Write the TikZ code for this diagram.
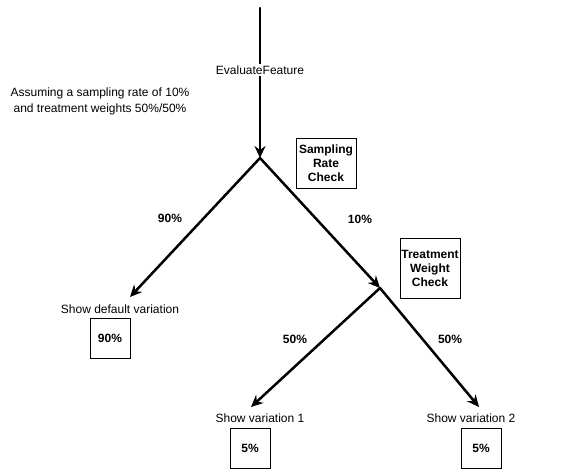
\documentclass[tikz,border=0pt]{standalone}
\usepackage{fontspec}
\setmainfont{Liberation Sans}
\usetikzlibrary{arrows.meta}
\begin{document}
\begin{tikzpicture}[x=1pt, y=-1pt, font=\fontsize{12}{14}\selectfont,
  every node/.style={inner sep=1pt},
  box/.style={draw, line width=1pt, minimum width=40pt, minimum height=40pt, align=center, font=\fontsize{12}{14}\bfseries\selectfont},
  pct/.style={font=\fontsize{12}{14}\bfseries\selectfont},
  arr/.style={line width=2.5pt, line cap=round, -{Stealth[length=12pt, width=11pt, inset=4pt]}}]
\useasboundingbox (0,0) rectangle (561,469);
\coordinate (T) at (260, 8);
\coordinate (A) at (260, 158);
\coordinate (B) at (380, 288);
\coordinate (C) at (130, 297);
\coordinate (D) at (251, 407);
\coordinate (E) at (479, 407);

\node (N) at (100, 101) [align=center, font=\fontsize{12}{16}\selectfont] {Assuming a sampling rate of 10\%\\and treatment weights 50\%/50\%};
\node (SR) at (326, 163) [box, minimum width=60pt, minimum height=50pt] {Sampling\\Rate\\Check};
\node (TW) at (430, 268.5) [box, minimum width=60pt, minimum height=60pt] {Treatment\\Weight\\Check};
\node (L0) at (120, 309) {Show default variation};
\node (L1) at (260, 418) {Show variation 1};
\node (L2) at (471, 418) {Show variation 2};
\node (V0) at (110, 338) [box] {90\%};
\node (V1) at (250, 448) [box] {5\%};
\node (V2) at (481, 448) [box] {5\%};
\node (P0) at (170, 218) [pct] {90\%};
\node (P1) at (360, 219) [pct] {10\%};
\node (P2) at (295, 339) [pct] {50\%};
\node (P3) at (450, 339) [pct] {50\%};

\draw [arr] (T) to (A);
\draw [arr] (A) to (C);
\draw [arr] (A) to (B);
\draw [arr] (B) to (D);
\draw [arr] (B) to (E);
\node (EF) at (260, 70) [fill=white, inner sep=2pt] {EvaluateFeature};
\end{tikzpicture}
\end{document}
